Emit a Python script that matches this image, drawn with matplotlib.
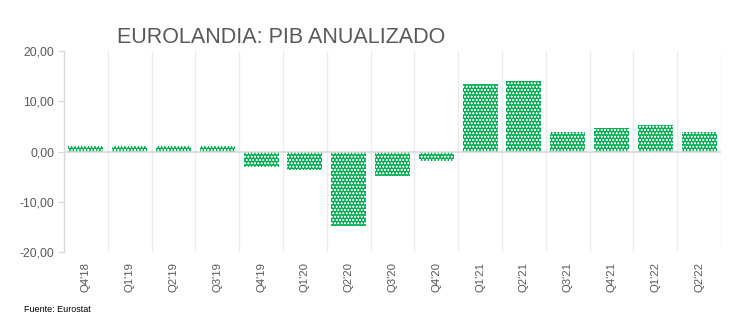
import matplotlib
matplotlib.use("Agg")
import matplotlib.pyplot as plt
import matplotlib.transforms as mtransforms

categories = ["Q4'18", "Q1'19", "Q2'19", "Q3'19", "Q4'19", "Q1'20", "Q2'20", "Q3'20",
              "Q4'20", "Q1'21", "Q2'21", "Q3'21", "Q4'21", "Q1'22", "Q2'22"]
values = [1.0, 1.0, 1.0, 1.0, -3.1, -3.7, -14.8, -4.9, -1.9, 13.5, 14.1, 3.8, 4.6, 5.2, 3.8]
y_ticks = [-20, -10, 0, 10, 20]
y_tick_labels = ["-20,00", "-10,00", "0,00", "10,00", "20,00"]
title = "EUROLANDIA: PIB ANUALIZADO"
source = "Fuente: Eurostat"

plt.rcParams['font.family'] = ['Liberation Sans', 'DejaVu Sans']
plt.rcParams['hatch.linewidth'] = 0.35

fig = plt.figure(figsize=(7.48, 3.34), dpi=100)
ax = fig.add_axes([64/748, 1 - 252/334, (721 - 64)/748, (252 - 51)/334])

green = "#00B050"
gray_text = "#595959"
grid_col = "#EBEBEB"
axis_col = "#D9D9D9"

x = list(range(len(categories)))
ax.bar(x, values, width=0.8, facecolor=green, edgecolor="white", linewidth=0,
       hatch="ooooo", zorder=3)

ax.set_xlim(-0.5, len(categories) - 0.5)
ax.set_ylim(-20, 20)

# vertical separators between categories
for b in range(1, len(categories) + 1):
    ax.axvline(b - 0.5, color=grid_col, linewidth=1, zorder=1)
ax.axhline(0, color=axis_col, linewidth=1.2, zorder=4)

for s in ["top", "right", "bottom"]:
    ax.spines[s].set_visible(False)
ax.spines["left"].set_color(axis_col)
ax.spines["left"].set_linewidth(1)

ax.set_yticks(y_ticks)
ax.set_yticklabels(y_tick_labels, fontsize=8.8, color=gray_text)
ax.tick_params(axis="y", length=4, color=axis_col, pad=3)
ax.set_xticks([])

trans = mtransforms.blended_transform_factory(ax.transData, ax.transAxes)
for i, lab in enumerate(categories):
    ax.text(i, -0.199, lab, transform=trans, rotation=90, ha="center", va="bottom",
            fontsize=8.2, color=gray_text)

fig.text(117/748, 1 - 43.3/334, title, ha="left", va="baseline",
         fontsize=15.5, color=gray_text)
fig.text(24/748, 1 - 310/334, source, ha="left", va="center",
         fontsize=6.5, color="black")

fig.savefig("out.png", dpi=100)
